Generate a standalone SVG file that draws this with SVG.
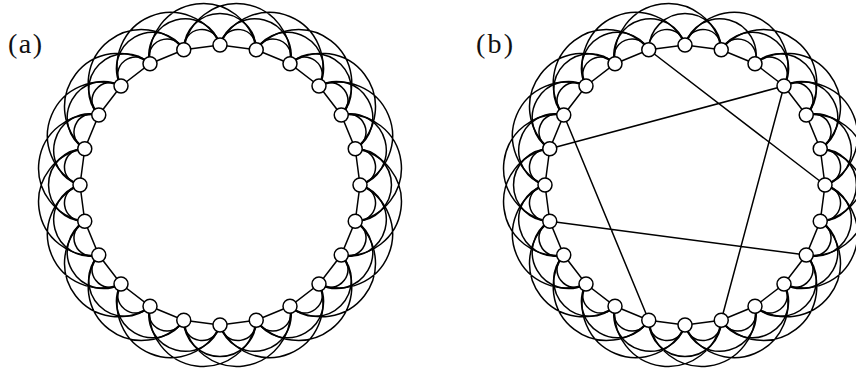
<svg xmlns="http://www.w3.org/2000/svg" width="856" height="371" viewBox="0 0 856 371">
<style>
.e{fill:none;stroke:#000;stroke-width:1.5}
.n{fill:#fff;stroke:#000;stroke-width:1.5}
.lbl{font-family:"Liberation Serif",serif;font-size:28px;fill:#111}
</style>
<defs>
<path id="ring0" d="M140,0 L135.23,-36.24 L121.24,-70 L99,-99 L70,-121.24 L36.24,-135.23 L0,-140 L-36.24,-135.23 L-70,-121.24 L-99,-99 L-121.24,-70 L-135.23,-36.24 L-140,0 L-135.23,36.24 L-121.24,70 L-99,99 L-70,121.24 L-36.24,135.23 L0,140 L36.24,135.23 L70,121.24 L99,99 L121.24,70 L135.23,36.24 Z"/>
<path id="ring1" d="M140,0 A18.28,18.28 0 0 0 135.23,-36.24 M135.23,-36.24 A18.28,18.28 0 0 0 121.24,-70 M121.24,-70 A18.28,18.28 0 0 0 99,-99 M99,-99 A18.28,18.28 0 0 0 70,-121.24 M70,-121.24 A18.28,18.28 0 0 0 36.24,-135.23 M36.24,-135.23 A18.28,18.28 0 0 0 0,-140 M0,-140 A18.28,18.28 0 0 0 -36.24,-135.23 M-36.24,-135.23 A18.28,18.28 0 0 0 -70,-121.24 M-70,-121.24 A18.28,18.28 0 0 0 -99,-99 M-99,-99 A18.28,18.28 0 0 0 -121.24,-70 M-121.24,-70 A18.28,18.28 0 0 0 -135.23,-36.24 M-135.23,-36.24 A18.28,18.28 0 0 0 -140,0 M-140,0 A18.28,18.28 0 0 0 -135.23,36.24 M-135.23,36.24 A18.28,18.28 0 0 0 -121.24,70 M-121.24,70 A18.28,18.28 0 0 0 -99,99 M-99,99 A18.28,18.28 0 0 0 -70,121.24 M-70,121.24 A18.28,18.28 0 0 0 -36.24,135.23 M-36.24,135.23 A18.28,18.28 0 0 0 0,140 M0,140 A18.28,18.28 0 0 0 36.24,135.23 M36.24,135.23 A18.28,18.28 0 0 0 70,121.24 M70,121.24 A18.28,18.28 0 0 0 99,99 M99,99 A18.28,18.28 0 0 0 121.24,70 M121.24,70 A18.28,18.28 0 0 0 135.23,36.24 M135.23,36.24 A18.28,18.28 0 0 0 140,0"/>
<path id="ring2" d="M140,0 A36.24,36.24 0 0 0 121.24,-70 M135.23,-36.24 A36.24,36.24 0 0 0 99,-99 M121.24,-70 A36.24,36.24 0 0 0 70,-121.24 M99,-99 A36.24,36.24 0 0 0 36.24,-135.23 M70,-121.24 A36.24,36.24 0 0 0 0,-140 M36.24,-135.23 A36.24,36.24 0 0 0 -36.24,-135.23 M0,-140 A36.24,36.24 0 0 0 -70,-121.24 M-36.24,-135.23 A36.24,36.24 0 0 0 -99,-99 M-70,-121.24 A36.24,36.24 0 0 0 -121.24,-70 M-99,-99 A36.24,36.24 0 0 0 -135.23,-36.24 M-121.24,-70 A36.24,36.24 0 0 0 -140,0 M-135.23,-36.24 A36.24,36.24 0 0 0 -135.23,36.24 M-140,0 A36.24,36.24 0 0 0 -121.24,70 M-135.23,36.24 A36.24,36.24 0 0 0 -99,99 M-121.24,70 A36.24,36.24 0 0 0 -70,121.24 M-99,99 A36.24,36.24 0 0 0 -36.24,135.23 M-70,121.24 A36.24,36.24 0 0 0 0,140 M-36.24,135.23 A36.24,36.24 0 0 0 36.24,135.23 M0,140 A36.24,36.24 0 0 0 70,121.24 M36.24,135.23 A36.24,36.24 0 0 0 99,99 M70,121.24 A36.24,36.24 0 0 0 121.24,70 M99,99 A36.24,36.24 0 0 0 135.23,36.24 M121.24,70 A36.24,36.24 0 0 0 140,0 M135.23,36.24 A36.24,36.24 0 0 0 135.23,-36.24"/>
</defs>
<text class="lbl" x="8" y="53" textLength="34">(a)</text>
<text class="lbl" x="476" y="53" textLength="37">(b)</text>
<g id="connectors">
<g id="edges-a" class="e" transform="translate(220,185)">
<use href="#ring0"/>
<use href="#ring1"/>
<use href="#ring2"/>
<path d="M140,0 A53.58,53.58 0 0 0 99,-99 M135.23,-36.24 A53.58,53.58 0 0 0 70,-121.24 M121.24,-70 A53.58,53.58 0 0 0 36.24,-135.23 M99,-99 A53.58,53.58 0 0 0 0,-140 M70,-121.24 A53.58,53.58 0 0 0 -36.24,-135.23 M36.24,-135.23 A53.58,53.58 0 0 0 -70,-121.24 M0,-140 A53.58,53.58 0 0 0 -99,-99 M-36.24,-135.23 A53.58,53.58 0 0 0 -121.24,-70 M-70,-121.24 A53.58,53.58 0 0 0 -135.23,-36.24 M-99,-99 A53.58,53.58 0 0 0 -140,0 M-121.24,-70 A53.58,53.58 0 0 0 -135.23,36.24 M-135.23,-36.24 A53.58,53.58 0 0 0 -121.24,70 M-140,0 A53.58,53.58 0 0 0 -99,99 M-135.23,36.24 A53.58,53.58 0 0 0 -70,121.24 M-121.24,70 A53.58,53.58 0 0 0 -36.24,135.23 M-99,99 A53.58,53.58 0 0 0 0,140 M-70,121.24 A53.58,53.58 0 0 0 36.24,135.23 M-36.24,135.23 A53.58,53.58 0 0 0 70,121.24 M0,140 A53.58,53.58 0 0 0 99,99 M36.24,135.23 A53.58,53.58 0 0 0 121.24,70 M70,121.24 A53.58,53.58 0 0 0 135.23,36.24 M99,99 A53.58,53.58 0 0 0 140,0 M121.24,70 A53.58,53.58 0 0 0 135.23,-36.24 M135.23,36.24 A53.58,53.58 0 0 0 121.24,-70"/>
</g>
<g id="edges-b" class="e" transform="translate(685,185)">
<use href="#ring0"/>
<use href="#ring1"/>
<use href="#ring2"/>
<path d="M140,0 A53.58,53.58 0 0 0 99,-99 M135.23,-36.24 A53.58,53.58 0 0 0 70,-121.24 M121.24,-70 A53.58,53.58 0 0 0 36.24,-135.23 M99,-99 A53.58,53.58 0 0 0 0,-140 M36.24,-135.23 A53.58,53.58 0 0 0 -70,-121.24 M0,-140 A53.58,53.58 0 0 0 -99,-99 M-36.24,-135.23 A53.58,53.58 0 0 0 -121.24,-70 M-70,-121.24 A53.58,53.58 0 0 0 -135.23,-36.24 M-99,-99 A53.58,53.58 0 0 0 -140,0 M-121.24,-70 A53.58,53.58 0 0 0 -135.23,36.24 M-135.23,-36.24 A53.58,53.58 0 0 0 -121.24,70 M-140,0 A53.58,53.58 0 0 0 -99,99 M-135.23,36.24 A53.58,53.58 0 0 0 -70,121.24 M-121.24,70 A53.58,53.58 0 0 0 -36.24,135.23 M-99,99 A53.58,53.58 0 0 0 0,140 M-70,121.24 A53.58,53.58 0 0 0 36.24,135.23 M-36.24,135.23 A53.58,53.58 0 0 0 70,121.24 M0,140 A53.58,53.58 0 0 0 99,99 M36.24,135.23 A53.58,53.58 0 0 0 121.24,70 M70,121.24 A53.58,53.58 0 0 0 135.23,36.24 M99,99 A53.58,53.58 0 0 0 140,0 M121.24,70 A53.58,53.58 0 0 0 135.23,-36.24 M135.23,36.24 A53.58,53.58 0 0 0 121.24,-70"/>
<path d="M-36.24,-135.23 L140,0 M99,-99 L-135.23,-36.24 M99,-99 L36.24,135.23 M-121.24,-70 L-36.24,135.23 M-135.23,36.24 L121.24,70"/>
</g>
</g>
<g id="nodes-a" class="n" transform="translate(220,185)">
<g id="a0"><circle cx="140" cy="0" r="7"/></g>
<g id="a1"><circle cx="135.23" cy="-36.24" r="7"/></g>
<g id="a2"><circle cx="121.24" cy="-70" r="7"/></g>
<g id="a3"><circle cx="99" cy="-99" r="7"/></g>
<g id="a4"><circle cx="70" cy="-121.24" r="7"/></g>
<g id="a5"><circle cx="36.24" cy="-135.23" r="7"/></g>
<g id="a6"><circle cx="0" cy="-140" r="7"/></g>
<g id="a7"><circle cx="-36.24" cy="-135.23" r="7"/></g>
<g id="a8"><circle cx="-70" cy="-121.24" r="7"/></g>
<g id="a9"><circle cx="-99" cy="-99" r="7"/></g>
<g id="a10"><circle cx="-121.24" cy="-70" r="7"/></g>
<g id="a11"><circle cx="-135.23" cy="-36.24" r="7"/></g>
<g id="a12"><circle cx="-140" cy="0" r="7"/></g>
<g id="a13"><circle cx="-135.23" cy="36.24" r="7"/></g>
<g id="a14"><circle cx="-121.24" cy="70" r="7"/></g>
<g id="a15"><circle cx="-99" cy="99" r="7"/></g>
<g id="a16"><circle cx="-70" cy="121.24" r="7"/></g>
<g id="a17"><circle cx="-36.24" cy="135.23" r="7"/></g>
<g id="a18"><circle cx="0" cy="140" r="7"/></g>
<g id="a19"><circle cx="36.24" cy="135.23" r="7"/></g>
<g id="a20"><circle cx="70" cy="121.24" r="7"/></g>
<g id="a21"><circle cx="99" cy="99" r="7"/></g>
<g id="a22"><circle cx="121.24" cy="70" r="7"/></g>
<g id="a23"><circle cx="135.23" cy="36.24" r="7"/></g>
</g>
<g id="nodes-b" class="n" transform="translate(685,185)">
<g id="b0"><circle cx="140" cy="0" r="7"/></g>
<g id="b1"><circle cx="135.23" cy="-36.24" r="7"/></g>
<g id="b2"><circle cx="121.24" cy="-70" r="7"/></g>
<g id="b3"><circle cx="99" cy="-99" r="7"/></g>
<g id="b4"><circle cx="70" cy="-121.24" r="7"/></g>
<g id="b5"><circle cx="36.24" cy="-135.23" r="7"/></g>
<g id="b6"><circle cx="0" cy="-140" r="7"/></g>
<g id="b7"><circle cx="-36.24" cy="-135.23" r="7"/></g>
<g id="b8"><circle cx="-70" cy="-121.24" r="7"/></g>
<g id="b9"><circle cx="-99" cy="-99" r="7"/></g>
<g id="b10"><circle cx="-121.24" cy="-70" r="7"/></g>
<g id="b11"><circle cx="-135.23" cy="-36.24" r="7"/></g>
<g id="b12"><circle cx="-140" cy="0" r="7"/></g>
<g id="b13"><circle cx="-135.23" cy="36.24" r="7"/></g>
<g id="b14"><circle cx="-121.24" cy="70" r="7"/></g>
<g id="b15"><circle cx="-99" cy="99" r="7"/></g>
<g id="b16"><circle cx="-70" cy="121.24" r="7"/></g>
<g id="b17"><circle cx="-36.24" cy="135.23" r="7"/></g>
<g id="b18"><circle cx="0" cy="140" r="7"/></g>
<g id="b19"><circle cx="36.24" cy="135.23" r="7"/></g>
<g id="b20"><circle cx="70" cy="121.24" r="7"/></g>
<g id="b21"><circle cx="99" cy="99" r="7"/></g>
<g id="b22"><circle cx="121.24" cy="70" r="7"/></g>
<g id="b23"><circle cx="135.23" cy="36.24" r="7"/></g>
</g>
</svg>
